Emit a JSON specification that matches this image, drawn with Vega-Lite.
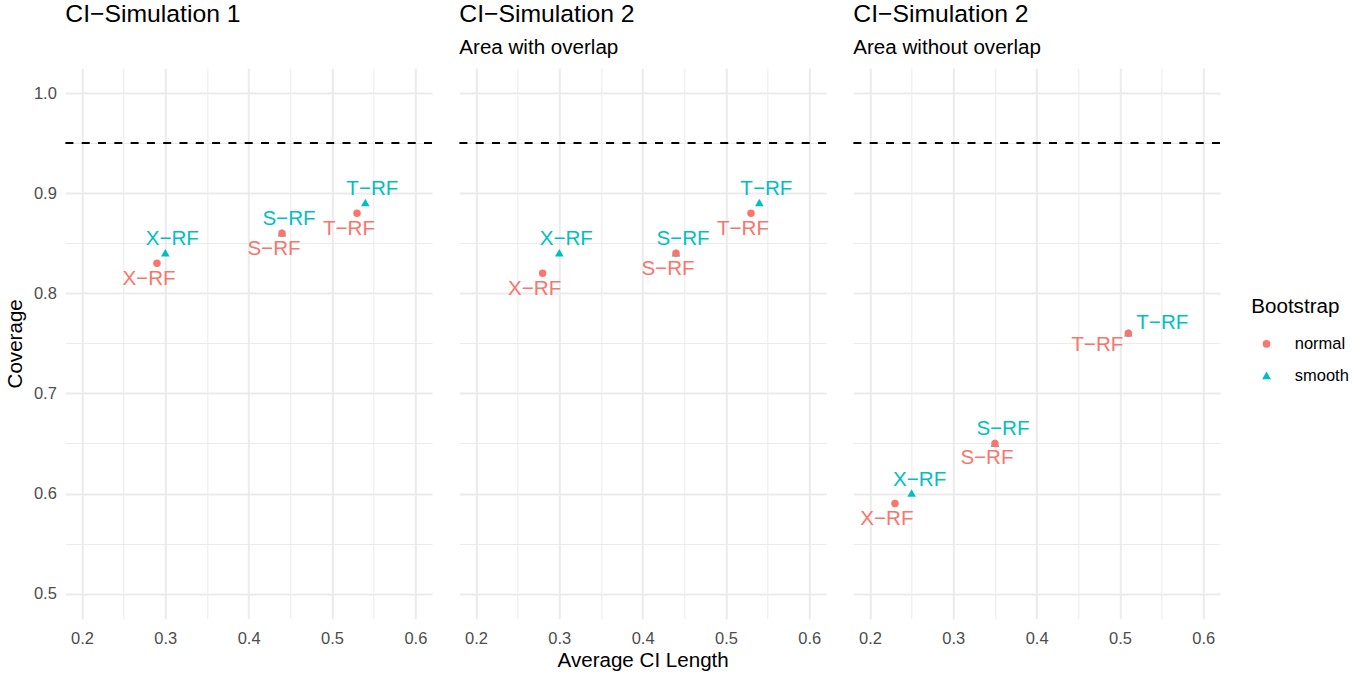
{
  "$schema": "https://vega.github.io/schema/vega-lite/v6.json",
  "background": "white",
  "padding": {"left": 5.3, "top": 2, "right": 0, "bottom": 0},
  "datasets": {
    "sim": [
      {"panel": 1, "method": "X−RF", "boot": "smooth", "len": 0.30, "cov": 0.84},
      {"panel": 1, "method": "S−RF", "boot": "smooth", "len": 0.44, "cov": 0.86},
      {"panel": 1, "method": "T−RF", "boot": "smooth", "len": 0.54, "cov": 0.89},
      {"panel": 1, "method": "X−RF", "boot": "normal", "len": 0.29, "cov": 0.83},
      {"panel": 1, "method": "S−RF", "boot": "normal", "len": 0.44, "cov": 0.86},
      {"panel": 1, "method": "T−RF", "boot": "normal", "len": 0.53, "cov": 0.88},
      {"panel": 2, "method": "X−RF", "boot": "smooth", "len": 0.30, "cov": 0.84},
      {"panel": 2, "method": "S−RF", "boot": "smooth", "len": 0.44, "cov": 0.84},
      {"panel": 2, "method": "T−RF", "boot": "smooth", "len": 0.54, "cov": 0.89},
      {"panel": 2, "method": "X−RF", "boot": "normal", "len": 0.28, "cov": 0.82},
      {"panel": 2, "method": "S−RF", "boot": "normal", "len": 0.44, "cov": 0.84},
      {"panel": 2, "method": "T−RF", "boot": "normal", "len": 0.53, "cov": 0.88},
      {"panel": 3, "method": "X−RF", "boot": "smooth", "len": 0.25, "cov": 0.60},
      {"panel": 3, "method": "S−RF", "boot": "smooth", "len": 0.35, "cov": 0.65},
      {"panel": 3, "method": "T−RF", "boot": "smooth", "len": 0.51, "cov": 0.76},
      {"panel": 3, "method": "X−RF", "boot": "normal", "len": 0.23, "cov": 0.59},
      {"panel": 3, "method": "S−RF", "boot": "normal", "len": 0.35, "cov": 0.65},
      {"panel": 3, "method": "T−RF", "boot": "normal", "len": 0.51, "cov": 0.76}
    ],
    "ref": [{"cov": 0.95}]
  },
  "spacing": 25,
  "resolve": {"scale": {"color": "shared", "shape": "shared"}},
  "hconcat": [
    {
      "width": 366.7, "height": 550.7,
      "title": {"text": "CI−Simulation 1", "subtitle": " "},
      "layer": [
        {
          "data": {"name": "ref"},
          "mark": {"type": "rule", "color": "black", "strokeWidth": 2, "strokeDash": [8, 8.3]},
          "encoding": {"y": {"field": "cov", "type": "quantitative", "scale": {"domain": [0.475, 1.025], "nice": false, "zero": false}}}
        },
        {
          "data": {"name": "sim"},
          "transform": [{"filter": "datum.panel == 1"}],
          "mark": {"type": "point", "filled": true, "opacity": 1, "size": 56},
          "encoding": {
            "x": {"field": "len", "type": "quantitative", "scale": {"domain": [0.18, 0.62], "nice": false, "zero": false},
              "axis": {"title": null, "values": [0.2, 0.25, 0.3, 0.35, 0.4, 0.45, 0.5, 0.55, 0.6], "labelExpr": "round(datum.value*100) % 10 == 0 ? format(datum.value, '.1f') : ''", "gridWidth": {"condition": {"test": "round(datum.value*100) % 10 != 0", "value": 1}, "value": 2}}},
            "y": {"field": "cov", "type": "quantitative", "scale": {"domain": [0.475, 1.025], "nice": false, "zero": false},
              "axis": {"title": "Coverage", "values": [0.5, 0.55, 0.6, 0.65, 0.7, 0.75, 0.8, 0.85, 0.9, 0.95, 1.0], "labelExpr": "round(datum.value*100) % 10 == 0 ? format(datum.value, '.1f') : ''", "gridWidth": {"condition": {"test": "round(datum.value*100) % 10 != 0", "value": 1}, "value": 2}}},
            "color": {"field": "boot", "type": "nominal", "title": "Bootstrap", "scale": {"domain": ["normal", "smooth"], "range": ["#F8766D", "#00BFC4"]},
              "legend": {"orient": "none", "legendX": 1186, "legendY": 229}},
            "shape": {"field": "boot", "type": "nominal", "title": "Bootstrap", "scale": {"domain": ["normal", "smooth"], "range": ["circle", "M-1.15,0.85L1.15,0.85L0,-1.15Z"]},
              "legend": {"orient": "none", "legendX": 1186, "legendY": 229}}
          }
        },
        {
          "data": {"name": "sim"},
          "transform": [{"filter": "datum.panel == 1 && datum.boot == 'normal'"}],
          "mark": {"type": "text", "color": "#F8766D", "dx": -8, "dy": 16},
          "encoding": {"x": {"field": "len", "type": "quantitative"}, "y": {"field": "cov", "type": "quantitative"}, "text": {"field": "method"}}
        },
        {
          "data": {"name": "sim"},
          "transform": [{"filter": "datum.panel == 1 && datum.boot == 'smooth'"}],
          "mark": {"type": "text", "color": "#00BFC4", "dx": 7, "dy": -14},
          "encoding": {"x": {"field": "len", "type": "quantitative"}, "y": {"field": "cov", "type": "quantitative"}, "text": {"field": "method"}}
        }
      ]
    },
    {
      "width": 366.7, "height": 550.7,
      "title": {"text": "CI−Simulation 2", "subtitle": "Area with overlap"},
      "layer": [
        {
          "data": {"name": "ref"},
          "mark": {"type": "rule", "color": "black", "strokeWidth": 2, "strokeDash": [8, 8.3]},
          "encoding": {"y": {"field": "cov", "type": "quantitative", "scale": {"domain": [0.475, 1.025], "nice": false, "zero": false}}}
        },
        {
          "data": {"name": "sim"},
          "transform": [{"filter": "datum.panel == 2"}],
          "mark": {"type": "point", "filled": true, "opacity": 1, "size": 56},
          "encoding": {
            "x": {"field": "len", "type": "quantitative", "scale": {"domain": [0.18, 0.62], "nice": false, "zero": false},
              "axis": {"title": "Average CI Length", "values": [0.2, 0.25, 0.3, 0.35, 0.4, 0.45, 0.5, 0.55, 0.6], "labelExpr": "round(datum.value*100) % 10 == 0 ? format(datum.value, '.1f') : ''", "gridWidth": {"condition": {"test": "round(datum.value*100) % 10 != 0", "value": 1}, "value": 2}}},
            "y": {"field": "cov", "type": "quantitative", "scale": {"domain": [0.475, 1.025], "nice": false, "zero": false},
              "axis": {"title": null, "labels": false, "values": [0.5, 0.55, 0.6, 0.65, 0.7, 0.75, 0.8, 0.85, 0.9, 0.95, 1.0], "gridWidth": {"condition": {"test": "round(datum.value*100) % 10 != 0", "value": 1}, "value": 2}}},
            "color": {"field": "boot", "type": "nominal", "title": "Bootstrap", "scale": {"domain": ["normal", "smooth"], "range": ["#F8766D", "#00BFC4"]},
              "legend": {"orient": "none", "legendX": 1186, "legendY": 229}},
            "shape": {"field": "boot", "type": "nominal", "title": "Bootstrap", "scale": {"domain": ["normal", "smooth"], "range": ["circle", "M-1.15,0.85L1.15,0.85L0,-1.15Z"]},
              "legend": {"orient": "none", "legendX": 1186, "legendY": 229}}
          }
        },
        {
          "data": {"name": "sim"},
          "transform": [{"filter": "datum.panel == 2 && datum.boot == 'normal'"}],
          "mark": {"type": "text", "color": "#F8766D", "dx": -8, "dy": 16},
          "encoding": {"x": {"field": "len", "type": "quantitative"}, "y": {"field": "cov", "type": "quantitative"}, "text": {"field": "method"}}
        },
        {
          "data": {"name": "sim"},
          "transform": [{"filter": "datum.panel == 2 && datum.boot == 'smooth'"}],
          "mark": {"type": "text", "color": "#00BFC4", "dx": 7, "dy": -14},
          "encoding": {"x": {"field": "len", "type": "quantitative"}, "y": {"field": "cov", "type": "quantitative"}, "text": {"field": "method"}}
        }
      ]
    },
    {
      "width": 366.7, "height": 550.7,
      "title": {"text": "CI−Simulation 2", "subtitle": "Area without overlap"},
      "layer": [
        {
          "data": {"name": "ref"},
          "mark": {"type": "rule", "color": "black", "strokeWidth": 2, "strokeDash": [8, 8.3]},
          "encoding": {"y": {"field": "cov", "type": "quantitative", "scale": {"domain": [0.475, 1.025], "nice": false, "zero": false}}}
        },
        {
          "data": {"name": "sim"},
          "transform": [{"filter": "datum.panel == 3"}],
          "mark": {"type": "point", "filled": true, "opacity": 1, "size": 56},
          "encoding": {
            "x": {"field": "len", "type": "quantitative", "scale": {"domain": [0.18, 0.62], "nice": false, "zero": false},
              "axis": {"title": null, "values": [0.2, 0.25, 0.3, 0.35, 0.4, 0.45, 0.5, 0.55, 0.6], "labelExpr": "round(datum.value*100) % 10 == 0 ? format(datum.value, '.1f') : ''", "gridWidth": {"condition": {"test": "round(datum.value*100) % 10 != 0", "value": 1}, "value": 2}}},
            "y": {"field": "cov", "type": "quantitative", "scale": {"domain": [0.475, 1.025], "nice": false, "zero": false},
              "axis": {"title": null, "labels": false, "values": [0.5, 0.55, 0.6, 0.65, 0.7, 0.75, 0.8, 0.85, 0.9, 0.95, 1.0], "gridWidth": {"condition": {"test": "round(datum.value*100) % 10 != 0", "value": 1}, "value": 2}}},
            "color": {"field": "boot", "type": "nominal", "title": "Bootstrap", "scale": {"domain": ["normal", "smooth"], "range": ["#F8766D", "#00BFC4"]},
              "legend": {"orient": "none", "legendX": 1186, "legendY": 229}},
            "shape": {"field": "boot", "type": "nominal", "title": "Bootstrap", "scale": {"domain": ["normal", "smooth"], "range": ["circle", "M-1.15,0.85L1.15,0.85L0,-1.15Z"]},
              "legend": {"orient": "none", "legendX": 1186, "legendY": 229}}
          }
        },
        {
          "data": {"name": "sim"},
          "transform": [{"filter": "datum.panel == 3 && datum.boot == 'normal' && datum.method != 'T−RF'"}],
          "mark": {"type": "text", "color": "#F8766D", "dx": -8, "dy": 15},
          "encoding": {"x": {"field": "len", "type": "quantitative"}, "y": {"field": "cov", "type": "quantitative"}, "text": {"field": "method"}}
        },
        {
          "data": {"name": "sim"},
          "transform": [{"filter": "datum.panel == 3 && datum.boot == 'smooth' && datum.method != 'T−RF'"}],
          "mark": {"type": "text", "color": "#00BFC4", "dx": 8, "dy": -14},
          "encoding": {"x": {"field": "len", "type": "quantitative"}, "y": {"field": "cov", "type": "quantitative"}, "text": {"field": "method"}}
        },
        {
          "data": {"name": "sim"},
          "transform": [{"filter": "datum.panel == 3 && datum.boot == 'normal' && datum.method == 'T−RF'"}],
          "mark": {"type": "text", "color": "#F8766D", "dx": -31, "dy": 12},
          "encoding": {"x": {"field": "len", "type": "quantitative"}, "y": {"field": "cov", "type": "quantitative"}, "text": {"field": "method"}}
        },
        {
          "data": {"name": "sim"},
          "transform": [{"filter": "datum.panel == 3 && datum.boot == 'smooth' && datum.method == 'T−RF'"}],
          "mark": {"type": "text", "color": "#00BFC4", "dx": 34, "dy": -10},
          "encoding": {"x": {"field": "len", "type": "quantitative"}, "y": {"field": "cov", "type": "quantitative"}, "text": {"field": "method"}}
        }
      ]
    }
  ],
  "config": {
    "font": "Liberation Sans",
    "view": {"stroke": null},
    "text": {"font": "Liberation Sans", "fontSize": 20.6, "baseline": "middle", "align": "center"},
    "axis": {
      "domain": false, "ticks": false, "gridColor": "#EBEBEB", "gridOpacity": 1,
      "labelFont": "Liberation Sans", "labelFontSize": 16.5, "labelColor": "#4D4D4D",
      "titleFont": "Liberation Sans", "titleFontSize": 20.6, "titleFontWeight": "normal", "titleColor": "black",
      "labelOverlap": false
    },
    "axisX": {"titlePadding": 4, "labelPadding": 11.5},
    "axisY": {"titlePadding": 8, "labelPadding": 9},
    "title": {
      "font": "Liberation Sans", "fontSize": 24.75, "fontWeight": "normal", "color": "black", "anchor": "start", "frame": "group",
      "subtitleFont": "Liberation Sans", "subtitleFontSize": 20.6, "subtitleColor": "black", "subtitlePadding": 11, "offset": 9.3
    },
    "legend": {
      "titleFont": "Liberation Sans", "titleFontSize": 20.6, "titleFontWeight": "normal", "titleColor": "black",
      "labelFont": "Liberation Sans", "labelFontSize": 16.5, "labelColor": "black", "symbolSize": 60, "symbolOpacity": 1, "rowPadding": 15, "titlePadding": 18, "labelOffset": 20, "symbolOffset": 7
    }
  }
}
